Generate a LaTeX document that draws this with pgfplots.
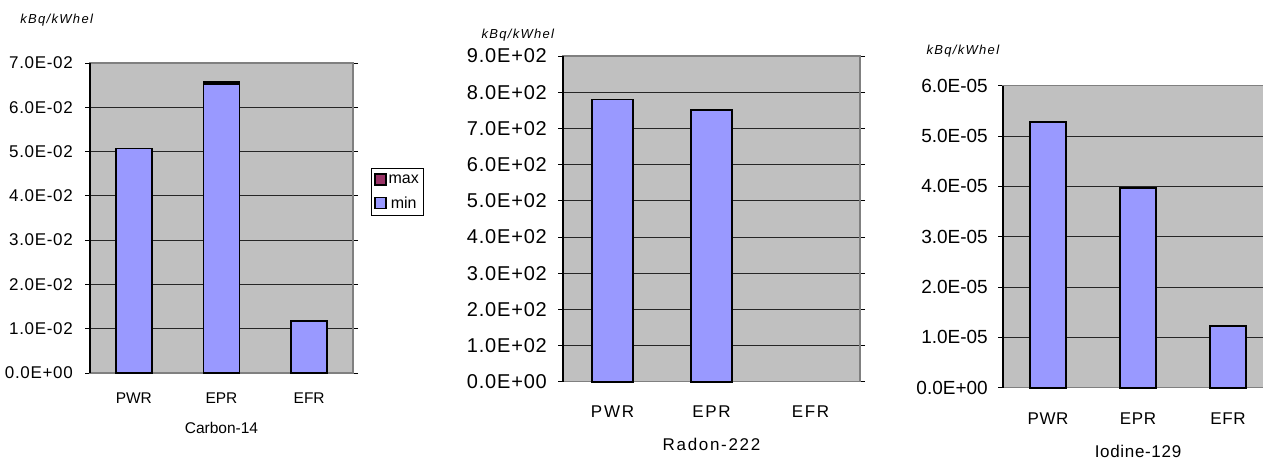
\documentclass[border=0pt]{standalone}
\usepackage{pgfplots}
\pgfplotsset{compat=1.18}
\usepackage{fontspec}
\setmainfont{Liberation Sans}
\newfontfamily\spaced[LetterSpace=4]{Liberation Sans}
\newfontfamily\wide[LetterSpace=10]{Liberation Sans}
\definecolor{plotbg}{HTML}{C0C0C0}
\definecolor{barmin}{HTML}{9999FF}
\definecolor{barmax}{HTML}{993366}
\definecolor{frame}{HTML}{808080}

\pgfplotsset{
  releasechart/.style={
    scale only axis,
    axis background/.style={fill=plotbg},
    axis line style={draw=frame, line width=1.2pt},
    xmin=-0.5, xmax=2.5,
    ymin=0,
    xtick={0,1,2},
    xticklabels={PWR,EPR,EFR},
    xtick style={draw=none},
    ymajorgrids,
    major grid style={black!85, line width=0.8pt},
    ytick style={black, line width=0.8pt},
    tick align=outside,
    major tick length=5pt,
    scaled y ticks=false,
    yticklabel style={anchor=east, inner sep=0pt},
    xticklabel style={anchor=center, inner sep=0pt},
    every axis y label/.style={anchor=west, font=\fontsize{13}{15}\selectfont\wide\itshape},
    every axis x label/.style={at={(axis description cs:0.5,0)}, anchor=center},
    bar shift=0pt,
    clip=false,
    after end axis/.code={
      \draw[black, line width=1.2pt] (rel axis cs:0,0) -- (rel axis cs:0,1);
    },
  },
  outlined/.style={draw=black, line width=1.8pt},
}

\begin{document}
\begin{tikzpicture}[x=1pt,y=1pt]
\clip (0,0) rectangle (1263,459);
\path[use as bounding box] (0,0) rectangle (1263,459);

% Carbon-14
\begin{axis}[releasechart,
  at={(90pt,86pt)}, anchor=south west,
  width=263pt, height=310pt,
  ymax=0.07,
  ytick={0,0.01,0.02,0.03,0.04,0.05,0.06,0.07},
  yticklabels={0.0E+00,1.0E-02,2.0E-02,3.0E-02,4.0E-02,5.0E-02,6.0E-02,7.0E-02},
  yticklabel style={xshift=-12pt, font=\fontsize{17}{19}\selectfont\spaced},
  xticklabel style={yshift=-20pt, font=\fontsize{15.5}{18}\selectfont},
  xlabel style={yshift=-55pt, font=\fontsize{15.5}{18}\selectfont},
  xlabel={Carbon-14},
  ylabel={kBq/kWhel},
  every axis y label/.append style={at={(axis description cs:-0.278,1.139)}},
  ybar stacked, bar width=36pt,
  reverse legend,
  legend style={at={(axis description cs:1.068,0.661)}, anchor=north west,
    draw=black, line width=0.8pt, fill=white,
    font=\fontsize{16}{18}\selectfont,
    inner xsep=3pt, inner ysep=4pt, row sep=8pt,
    /tikz/every even column/.style={column sep=1pt}},
  legend image code/.code={\draw[#1, line width=1.3pt] (0pt,-5.5pt) rectangle (11pt,5.5pt);},
]
\addplot[outlined, fill=barmin] coordinates {(0,0.0507) (1,0.0652) (2,0.0118)};
\addplot[outlined, fill=barmax] coordinates {(0,0) (1,0.0006) (2,0)};
\legend{min,max}
\end{axis}

% Radon-222
\begin{axis}[releasechart,
  at={(563pt,77.3pt)}, anchor=south west,
  width=297pt, height=325.7pt,
  ymax=900,
  ytick={0,100,200,300,400,500,600,700,800,900},
  yticklabels={0.0E+00,1.0E+02,2.0E+02,3.0E+02,4.0E+02,5.0E+02,6.0E+02,7.0E+02,8.0E+02,9.0E+02},
  yticklabel style={xshift=-11pt, font=\fontsize{20}{22}\selectfont\spaced},
  xticklabel style={yshift=-25pt, font=\fontsize{17}{20}\selectfont\wide},
  xlabel style={yshift=-63pt, font=\fontsize{17}{20}\selectfont\wide},
  xlabel={Radon-222},
  ylabel={kBq/kWhel},
  every axis y label/.append style={at={(axis description cs:-0.286,1.0645)}},
  ybar, bar width=41pt,
]
\addplot[outlined, fill=barmin] coordinates {(0,780) (1,750)};
\end{axis}

% Iodine-129
\begin{axis}[releasechart,
  at={(1003pt,71.3pt)}, anchor=south west,
  width=270pt, height=302pt,
  ymax=6e-5,
  ytick={0,1e-5,2e-5,3e-5,4e-5,5e-5,6e-5},
  yticklabels={0.0E+00,1.0E-05,2.0E-05,3.0E-05,4.0E-05,5.0E-05,6.0E-05},
  yticklabel style={xshift=-10pt, font=\fontsize{19}{21}\selectfont},
  xticklabel style={yshift=-26pt, font=\fontsize{17}{20}\selectfont\spaced},
  xlabel style={yshift=-64pt, font=\fontsize{17}{20}\selectfont\spaced},
  xlabel={Iodine-129},
  ylabel={kBq/kWhel},
  every axis y label/.append style={at={(axis description cs:-0.296,1.115)}},
  ybar, bar width=36pt,
]
\addplot[outlined, fill=barmin] coordinates {(0,5.28e-5) (1,3.97e-5) (2,1.23e-5)};
\end{axis}
\end{tikzpicture}
\end{document}
